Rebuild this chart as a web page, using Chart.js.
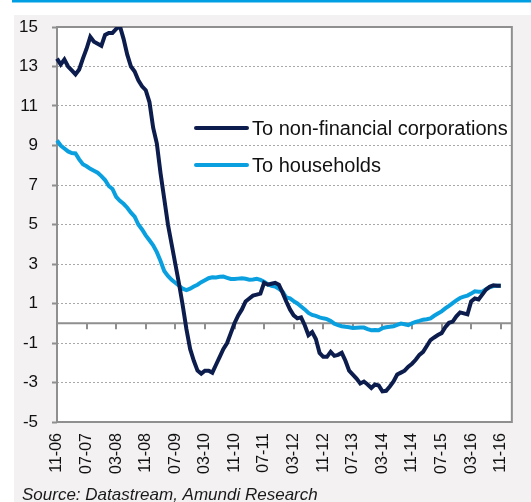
<!DOCTYPE html>
<html>
<head>
<meta charset="utf-8">
<script src="https://cdn.jsdelivr.net/npm/chart.js@4"></script>
<style>
  html, body { margin: 0; padding: 0; background: #ffffff; }
  #wrap { width: 531px; height: 502px; }
</style>
</head>
<body>
<div id="wrap"><canvas id="c" width="531" height="502"></canvas></div>
<script>
// Monthly categories, Nov 2006 onwards (three spare months keep a margin at the right)
const categories = [];
for (let m = 0; m < 124; m++) {
  const month = (10 + m) % 12 + 1;
  const year = 6 + Math.floor((10 + m) / 12);
  categories.push(String(month).padStart(2, '0') + '-' + String(year).padStart(2, '0'));
}

// Labels shown on the horizontal axis
const tickLabels = ['11-06', '07-07', '03-08', '11-08', '07-09', '03-10', '11-10', '07-11',
                    '03-12', '11-12', '07-13', '03-14', '11-14', '07-15', '03-16', '11-16'];

// Values shown on the vertical axis
const yTicks = [-5, -3, -1, 1, 3, 5, 7, 9, 11, 13, 15];

// Loan growth, % y/y
const corporations = [
  13.4, 13.1, 13.35, 13.0, 12.8, 12.6, 12.85, 13.4, 13.9, 14.5,
  14.25, 14.15, 14.05, 14.6, 14.7, 14.7, 14.9, 15.05, 14.4, 13.6,
  13.0, 12.75, 12.3, 12.0, 11.8, 11.2, 9.9, 9.1, 7.6, 6.3,
  5.0, 4.0, 3.0, 2.0, 0.9, -0.3, -1.3, -1.9, -2.4, -2.55,
  -2.4, -2.4, -2.5, -2.1, -1.7, -1.3, -1.0, -0.5, 0.0, 0.4,
  0.7, 1.1, 1.25, 1.4, 1.45, 1.5, 2.05, 1.95, 2.0, 2.05,
  1.95, 1.55, 1.1, 0.7, 0.4, 0.25, 0.3, -0.1, -0.6, -0.45,
  -0.8, -1.5, -1.7, -1.7, -1.45, -1.65, -1.6, -1.5, -1.9, -2.4,
  -2.6, -2.8, -3.05, -2.95, -3.1, -3.28, -3.1, -3.15, -3.45, -3.42,
  -3.2, -2.95, -2.6, -2.5, -2.4, -2.2, -2.05, -1.85, -1.6, -1.45,
  -1.15, -0.85, -0.72, -0.6, -0.5, -0.2, 0.02, 0.08, 0.35, 0.55,
  0.5, 0.45, 1.1, 1.25, 1.2, 1.45, 1.7, 1.85, 1.92, 1.9,
  1.9
];

const households = [
  9.25, 9.0, 8.85, 8.7, 8.62, 8.6, 8.3, 8.05, 7.95, 7.82,
  7.72, 7.62, 7.45, 7.25, 6.95, 6.8, 6.4, 6.2, 6.05, 5.85,
  5.6, 5.4, 5.0, 4.75, 4.45, 4.2, 3.95, 3.6, 3.15, 2.65,
  2.4, 2.2, 2.05, 1.9, 1.75, 1.68, 1.75, 1.86, 1.95, 2.08,
  2.18, 2.28, 2.33, 2.32, 2.35, 2.36, 2.3, 2.24, 2.24, 2.26,
  2.28, 2.25, 2.2, 2.22, 2.25, 2.2, 2.1, 1.98, 1.9, 1.86,
  1.75, 1.6, 1.3, 1.26, 1.12, 1.0, 0.85, 0.7, 0.52, 0.42,
  0.37, 0.3, 0.25, 0.21, 0.12, -0.02, -0.1, -0.15, -0.18, -0.2,
  -0.24, -0.23, -0.22, -0.22, -0.3, -0.35, -0.34, -0.35, -0.25, -0.2,
  -0.18, -0.15, -0.08, -0.02, -0.05, -0.1, 0.0, 0.07, 0.12, 0.18,
  0.2, 0.25, 0.38, 0.49, 0.6, 0.75, 0.88, 1.02, 1.16, 1.28,
  1.35, 1.4, 1.5, 1.62, 1.6, 1.6, 1.72, 1.82, 1.88, 1.9,
  1.9
];

const FONT = "'Liberation Sans', Arial, sans-serif";
const NAVY = '#0c1d4d';
const SKY = '#0aa0e0';
const FRAME = '#8f8f8f';

// Page background, top rule, plot frame, zero line and its tick marks
const decor = {
  id: 'decor',
  beforeDraw(chart) {
    const { ctx, chartArea: a } = chart;
    ctx.save();
    ctx.fillStyle = '#ffffff';
    ctx.fillRect(0, 0, chart.width, chart.height);
    ctx.fillStyle = '#f3f1f2';
    ctx.fillRect(14, 15, chart.width - 14, chart.height - 15);
    ctx.fillStyle = '#009fe3';
    ctx.fillRect(12, 0, chart.width - 12, 2.5);
    ctx.fillStyle = '#ffffff';
    ctx.fillRect(a.left, a.top, a.right - a.left, a.bottom - a.top);
    ctx.restore();
  },
  beforeDatasetsDraw(chart) {
    const { ctx, chartArea: a, scales } = chart;
    const y0 = scales.y.getPixelForValue(0);
    ctx.save();
    ctx.strokeStyle = FRAME;
    ctx.lineWidth = 2;
    ctx.beginPath();
    ctx.moveTo(a.left, y0);
    ctx.lineTo(a.right, y0);
    tickLabels.slice(1).forEach(l => {
      const x = Math.round(scales.x.getPixelForValue(categories.indexOf(l)));
      ctx.moveTo(x, y0);
      ctx.lineTo(x, y0 + 6);
    });
    ctx.stroke();
    ctx.strokeRect(a.left, a.top, a.right - a.left, a.bottom - a.top);
    ctx.restore();
  },
  afterDatasetsDraw(chart) {
    const { ctx } = chart;
    ctx.save();
    chart.data.datasets.forEach((ds, i) => {
      const y = 128 + 37 * i;
      ctx.strokeStyle = ds.borderColor;
      ctx.lineWidth = 4;
      ctx.lineCap = 'round';
      ctx.beginPath();
      ctx.moveTo(196, y);
      ctx.lineTo(247, y);
      ctx.stroke();
      ctx.fillStyle = '#111111';
      ctx.font = '20px ' + FONT;
      ctx.textBaseline = 'alphabetic';
      ctx.fillText(ds.label, 252, y + 7);
    });
    ctx.fillStyle = '#1a1a1a';
    ctx.font = 'italic 17px ' + FONT;
    ctx.fillText('Source: Datastream, Amundi Research', 22, 500);
    ctx.restore();
  }
};

new Chart(document.getElementById('c'), {
  type: 'line',
  data: {
    labels: categories,
    datasets: [
      { label: 'To non-financial corporations', data: corporations, borderColor: NAVY,
        borderWidth: 4, pointRadius: 0, tension: 0, fill: false },
      { label: 'To households', data: households, borderColor: SKY,
        borderWidth: 4, pointRadius: 0, tension: 0, fill: false }
    ]
  },
  options: {
    responsive: false,
    animation: false,
    layout: { padding: { top: 27, right: 2, left: 0, bottom: 0 } },
    plugins: { legend: { display: false }, tooltip: { enabled: false } },
    scales: {
      x: {
        type: 'category',
        grid: { display: false, drawTicks: false },
        border: { display: false },
        afterBuildTicks(scale) {
          scale.ticks = tickLabels.map(l => ({ value: categories.indexOf(l) }));
        },
        afterFit(scale) { scale.height = 80; },
        ticks: {
          autoSkip: false, minRotation: 90, maxRotation: 90, padding: 11,
          color: '#111111', font: { family: FONT, size: 16 }
        }
      },
      y: {
        min: -5, max: 15,
        afterBuildTicks(scale) {
          scale.ticks = yTicks.map(v => ({ value: v }));
        },
        afterFit(scale) { scale.width = 57; },
        grid: { color: '#a8a8a8', lineWidth: 1, tickLength: 5, tickColor: FRAME, tickWidth: 2 },
        border: { display: false, dash: [2, 2] },
        ticks: { padding: 14, color: '#111111', font: { family: FONT, size: 17 } }
      }
    }
  },
  plugins: [decor]
});
</script>
</body>
</html>
